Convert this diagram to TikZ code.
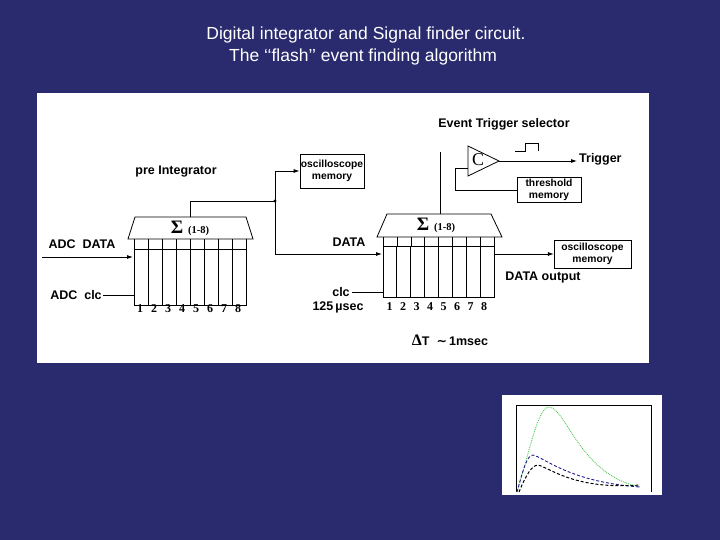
\documentclass[tikz,border=0pt]{standalone}
\usepackage{fontspec}
\setmainfont{Liberation Sans}
\newfontfamily\serifb{Liberation Serif}
\newfontfamily\dejavu{DejaVu Sans}
\usetikzlibrary{arrows.meta}
\definecolor{navy}{RGB}{42,42,110}
\definecolor{gr}{RGB}{80,200,80}
\definecolor{bl}{RGB}{30,30,140}
\tikzset{x=1pt,y=-1pt,
 lbl/.style={font=\bfseries\fontsize{12.5}{13}\selectfont,inner sep=0pt},
 num/.style={font=\serifb\bfseries\fontsize{12}{12}\selectfont,inner sep=0pt},
 mem/.style={draw,font=\bfseries\fontsize{10.3}{11.5}\selectfont,align=center,inner sep=1pt},
 arr/.style={-{Latex[length=6pt,width=4pt]}},
 wire/.style={line width=0.8pt}}
\begin{document}
\begin{tikzpicture}
\fill[navy] (0,0) rectangle (720,540);
\useasboundingbox (0,0) rectangle (720,540);
\node[text=white,font=\fontsize{17.5}{18}\selectfont] (t1) at (366,35) {Digital integrator and Signal finder circuit.};
\node[text=white,font=\fontsize{17.5}{18}\selectfont] (t2) at (363,57) {The ‘‘flash’’ event finding algorithm};
\fill[white] (37,93) rectangle (649,363);
% left register
\draw[wire] (134,249) rectangle (246,305);
\foreach \i in {1,...,7}{\draw[wire] (134+\i*14,249) -- (134+\i*14,305);}
\foreach \i in {0,...,8}{\draw (134+\i*14,239) -- (134+\i*14,249);}
\draw[wire] (128,239) -- (135,217) -- (246,217) -- (253,239) -- cycle;
\node[num] (s1) at (190,228) {\fontsize{19}{19}\selectfont Σ\ \fontsize{10.5}{10}\selectfont(1-8)};
\foreach \i in {1,...,8}{\node[num] (na\i) at (126+\i*14,309) {\i};}
\node[lbl] (adcd) at (82,244) {ADC\ \ DATA};
\node[lbl] (adcc) at (76,295) {ADC\ \ clc};
\coordinate (a0) at (42,257);
\coordinate (a1) at (133,257);
\draw[wire,arr] (a0) -- (a1);
\coordinate (c1) at (134,295);
\draw[wire] (adcc.east) ++(1pt,0) -- (c1);
\node[lbl] (pre) at (176,172) {pre Integrator};
% osc memory 1
\node[mem,minimum width=64pt,minimum height=34pt] (om1) at (332,171) {oscilloscope\\memory};
\coordinate (j) at (275,201);
\draw[wire] (190,217) -- (190,201) -- (j);
\fill (j) circle (1.6pt);
\draw[wire,arr] (j) |- (om1.west);
\coordinate (d2) at (382,254);
\draw[wire,arr] (j) |- (d2);
\node[lbl] (data2) at (349,242) {DATA};
\node[lbl] (clc2) at (341,292) {clc};
\node[lbl] (us) at (338,307) {125\,µsec};
\coordinate (c2) at (383,292);
\draw[wire] (clc2.east) ++(2pt,0) -- (c2);
% right register
\draw[wire] (383,246) rectangle (494,297);
\foreach \i in {1,...,7}{\draw[wire] (383+\i*13.875,246) -- (383+\i*13.875,297);}
\foreach \i in {0,...,8}{\draw (383+\i*13.875,237) -- (383+\i*13.875,246);}
\draw[wire] (377,237) -- (387,214) -- (491,214) -- (502,237) -- cycle;
\node[num] (s2) at (436,225) {\fontsize{19}{19}\selectfont Σ\ \fontsize{10.5}{10}\selectfont(1-8)};
\foreach \i in {1,...,8}{\node[num] (nb\i) at (376+\i*13.5,307) {\i};}
\draw[wire] (440,214) -- (440,152);
% comparator
\draw[wire,fill=white] (468,146) -- (499,161) -- (468,176) -- cycle;
\node[font=\serifb\fontsize{18}{18}\selectfont] (cc) at (478,160) {C};
\node[lbl,anchor=west] (trig) at (579,159) {Trigger};
\coordinate (tr) at (499,161);
\draw[wire,arr] (tr) -- ([xshift=-2pt]trig.west |- tr);
\draw[wire] (515,151) -- (525,151) -- (525,143) -- (538,143) -- (538,151);
\node[mem,minimum width=64pt,minimum height=25pt] (th) at (549,190) {threshold\\memory};
\draw[wire] (468,168) -- (455,168) |- (th.west);
\node[lbl] (ets) at (504,124) {Event Trigger selector};
% osc memory 2
\node[mem,minimum width=77pt,minimum height=28pt] (om2) at (592.5,254) {oscilloscope\\memory};
\coordinate (o2) at (494,254);
\draw[wire,arr] (o2) -- (om2.west);
\node[lbl] (dout) at (543,277) {DATA output};
\node[lbl] (dt) at (450,340) {{\serifb\fontsize{16}{16}\selectfont Δ}T\ \ {\dejavu ∼}\,1msec};
% plot
\fill[white] (502,395) rectangle (662,495);
\draw[line width=0.5pt] (516,405) -- (651,405) -- (651,492);
\draw[line width=0.5pt] (516,405) -- (516,492);
\draw[gr,densely dotted,line width=0.9pt] (517,492) .. controls (530,450) and (538,407) .. (549,407) .. controls (566,408) and (580,475) .. (640,487);
\draw[bl,densely dashed,line width=0.9pt] (517,492) .. controls (523,470) and (527,455) .. (533,455) .. controls (545,458) and (570,482) .. (640,487);
\draw[black,densely dashed,line width=1pt] (519,492) .. controls (526,475) and (532,465) .. (538,465) .. controls (550,468) and (575,490) .. (640,485);
\end{tikzpicture}
\end{document}
